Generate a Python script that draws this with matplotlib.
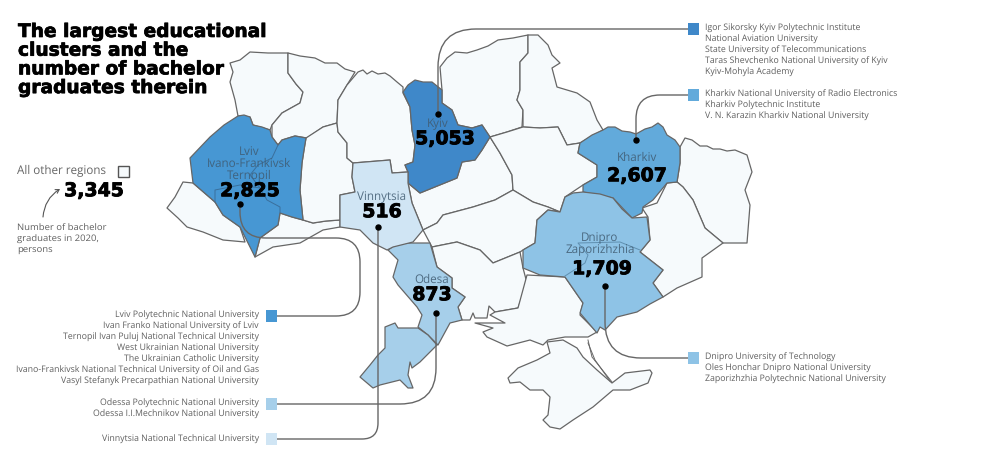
import matplotlib
matplotlib.use('Agg')
import matplotlib.pyplot as plt
import matplotlib.patheffects as pe
from matplotlib.path import Path
from matplotlib.patches import PathPatch, Rectangle

plt.rcParams['font.family'] = ['Open Sans', 'DejaVu Sans']
plt.rcParams['text.hinting'] = 'no_hinting'

# cluster values
clusters = ['Kyiv', 'Lviv\nIvano-Frankivsk\nTernopil', 'Kharkiv', 'Dnipro\nZaporizhzhia', 'Odesa', 'Vinnytsia']
graduates = [5053, 2825, 2607, 1709, 873, 516]
other_regions = 3345

kyiv_unis = ['Igor Sikorsky Kyiv Polytechnic Institute', 'National Aviation University',
             'State University of Telecommunications', 'Taras Shevchenko National University of Kyiv',
             'Kyiv-Mohyla Academy']
kharkiv_unis = ['Kharkiv National University of Radio Electronics', 'Kharkiv Polytechnic Institute',
                'V. N. Karazin Kharkiv National University']
dnipro_unis = ['Dnipro University of Technology', 'Oles Honchar Dnipro National University',
               'Zaporizhzhia Polytechnic National University']
lviv_unis = ['Lviv Polytechnic National University', 'Ivan Franko National University of Lviv',
             'Ternopil Ivan Puluj National Technical University', 'West Ukrainian National University',
             'The Ukrainian Catholic University',
             'Ivano-Frankivsk National Technical University of Oil and Gas',
             'Vasyl Stefanyk Precarpathian National University']
odesa_unis = ['Odessa Polytechnic National University', 'Odessa I.I.Mechnikov National University']
vinnytsia_unis = ['Vinnytsia National Technical University']

title_lines = ['The largest educational', 'clusters and the', 'number of bachelor', 'graduates therein']

# region outlines
lviv = [(238,116),(244,115),(250,117),(253,125),(262,127),(270,130),(272,137),(278,145),(282,140),(295,136),(306,138),
        (304,150),(302,163),(300,190),(303,220),(292,217),(280,213),(278,225),(260,238),(255,257),(245,237),(240,227),
        (223,215),(215,202),(193,183),(190,158),(210,137),(224,125)]
zakarpattia = [(183,182),(193,183),(215,202),(223,215),(240,227),(245,242),(223,240),(203,232),(187,227),(178,218),
               (167,208),(175,197)]
chernivtsi = [(255,257),(260,238),(278,225),(280,213),(292,217),(303,220),(313,223),(326,221),(340,220),(340,227),
              (323,230),(300,243),(273,247)]
volyn = [(230,63),(240,60),(250,52),(268,53),(288,53),(288,73),(296,84),(303,92),(300,103),(282,113),(272,125),
         (270,130),(253,125),(250,117),(238,116),(235,100),(230,82),(233,72)]
rivne = [(288,53),(300,56),(315,58),(325,63),(337,63),(345,69),(355,72),(347,85),(338,100),(337,123),(323,127),(307,138),
         (295,136),(282,140),(278,145),(272,137),(272,125),(282,113),(300,103),(303,92),(296,84),(288,73)]
khmelnytskyi = [(306,138),(323,127),(337,123),(338,132),(347,143),(347,158),(353,163),(352,177),(355,192),(340,195),
                (340,220),(326,221),(313,223),(303,220),(300,190),(302,163),(304,150)]
zhytomyr = [(358,72),(363,70),(367,74),(372,71),(378,74),(385,73),(390,76),(397,82),(403,87),(403,93),(410,107),
            (412,130),(415,145),(413,162),(405,165),(408,172),(392,173),(390,160),(353,163),(347,158),(347,143),
            (338,132),(337,123),(338,100),(347,85)]
kyiv = [(403,92),(408,85),(415,80),(423,82),(432,82),(442,90),(442,103),(452,110),(458,125),(472,128),(482,125),
        (490,137),(482,150),(475,160),(462,162),(457,178),(420,193),(408,183),(408,172),(405,165),(413,162),(415,145),
        (412,130),(410,107)]
vinnytsia = [(353,163),(390,160),(392,173),(408,172),(408,183),(412,203),(423,230),(413,242),(393,247),(387,250),
             (373,243),(360,230),(340,227),(340,195),(355,192),(352,177)]
cherkasy = [(490,137),(500,153),(512,175),(513,190),(495,200),(473,207),(443,215),(437,223),(423,230),(412,203),
            (408,183),(420,193),(457,178),(462,162),(475,160),(482,150)]
chernihiv = [(440,67),(447,58),(455,52),(467,53),(477,50),(488,46),(498,40),(513,38),(528,35),(528,53),(520,62),(520,90),
             (517,100),(523,110),(522,127),(507,132),(490,137),(482,125),(472,128),(458,125),(452,110),(442,103),(442,90)]
sumy = [(528,35),(538,35),(548,45),(552,55),(560,63),(552,68),(557,87),(577,93),(590,102),(597,120),(603,130),(580,143),
        (567,145),(558,127),(540,128),(523,127),(523,110),(517,100),(520,90),(520,62),(528,53)]
poltava = [(490,137),(507,132),(523,127),(540,128),(558,127),(567,145),(580,143),(578,153),(597,165),(597,177),
           (583,185),(565,197),(560,212),(548,207),(533,202),(513,190),(512,175),(500,153)]
kharkiv = [(580,143),(592,135),(603,130),(608,127),(615,127),(622,131),(630,132),(636,134),(645,129),(652,127),(658,123),
           (663,127),(667,135),(675,140),(680,147),(680,163),(677,182),(667,183),(653,200),(643,207),(642,213),(632,218),
           (613,198),(583,192),(583,185),(597,177),(597,165),(578,153)]
luhansk = [(680,147),(685,138),(692,140),(700,146),(707,146),(713,149),(720,149),(727,151),(735,150),(747,155),(752,172),
           (745,190),(750,205),(747,243),(723,243),(705,228),(693,200),(683,187),(677,182),(680,163)]
donetsk = [(677,182),(683,187),(693,200),(705,228),(723,243),(702,258),(702,277),(677,288),(663,297),(653,283),
           (663,270),(640,252),(650,240),(648,217),(642,208),(657,203),(667,183)]
dnipro = [(565,197),(573,193),(583,192),(600,194),(613,198),(622,209),(632,218),(647,217),(650,240),(640,252),(663,270),
          (653,283),(663,297),(650,304),(637,312),(617,317),(605,330),(600,327),(597,333),(580,313),(583,303),(565,277),
          (540,275),(523,268),(523,250),(535,243),(537,220),(548,210),(560,212)]
kirovohrad = [(437,223),(443,215),(473,207),(495,200),(513,190),(533,202),(548,207),(560,212),(548,210),(537,220),
              (535,243),(523,250),(520,252),(493,263),(480,250),(457,242),(432,247),(423,230)]
mykolaiv = [(432,247),(457,242),(480,250),(493,263),(520,252),(523,268),(527,283),(518,308),(495,312),(489,306),
            (487,318),(475,318),(473,313),(470,320),(462,320),(458,307),(465,297),(452,288),(452,278),(437,267)]
odesa_north = [(388,250),(398,243),(430,243),(437,267),(452,278),(452,288),(465,297),(458,307),(462,320),(450,323),
               (438,345),(428,335),(418,327),(422,315),(417,307),(398,285),(393,277),(398,260)]
odesa_south = [(385,327),(395,323),(398,328),(418,328),(428,335),(437,345),(420,362),(412,368),(410,362),(408,375),
               (413,388),(408,388),(400,380),(380,385),(373,388),(360,377),(370,365),(378,355),(385,348)]
kherson = [(527,275),(565,277),(583,303),(580,315),(597,332),(588,337),(565,337),(548,340),(543,345),(530,340),
           (507,346),(487,337),(483,332),(493,328),(475,323),(505,323),(490,315),(495,312),(518,308)]
crimea = [(508,378),(518,368),(537,360),(550,353),(547,342),(563,340),(577,348),(583,357),(597,370),(612,383),
          (625,373),(650,370),(652,373),(648,383),(630,390),(613,390),(593,407),(573,420),(560,429),(550,427),
          (543,420),(548,415),(550,397),(543,390),(530,390),(520,382),(510,383)]

# faint borders inside the merged clusters
lviv_inner = [(215,202),(215,190),(240,185),(260,188),(267,200),(280,207),(280,213)]
ternopil_inner = [(278,145),(272,158),(258,165),(250,175),(260,188)]
dnipro_inner = [(565,276),(585,263),(588,255),(578,243),(620,242),(640,250)]
# spit lines between Kherson and the Crimean coast
arabat_outer = [(588,340),(592,357),(612,382)]
arabat_inner = [(588,343),(595,360),(610,381)]

fill_other = '#f6fafc'
fill_kyiv = '#3f88c9'
fill_lviv = '#4797d3'
fill_kharkiv = '#62aadb'
fill_dnipro = '#8ec3e6'
fill_odesa = '#a6cfea'
fill_vinnytsia = '#d0e5f4'
line_col = '#666666'
text_col = '#5f5f5f'

fig = plt.figure(figsize=(10.04, 4.59), dpi=100)
ax = fig.add_axes([0, 0, 1, 1])
ax.set_xlim(0, 1004)
ax.set_ylim(459, 0)
ax.axis('off')

regions = [(zakarpattia, fill_other), (chernivtsi, fill_other), (volyn, fill_other), (rivne, fill_other),
           (khmelnytskyi, fill_other), (zhytomyr, fill_other), (cherkasy, fill_other), (chernihiv, fill_other),
           (sumy, fill_other), (poltava, fill_other), (luhansk, fill_other), (donetsk, fill_other),
           (kirovohrad, fill_other), (mykolaiv, fill_other), (kherson, fill_other), (crimea, fill_other),
           (lviv, fill_lviv), (kyiv, fill_kyiv), (kharkiv, fill_kharkiv), (dnipro, fill_dnipro),
           (odesa_north, fill_odesa), (odesa_south, fill_odesa), (vinnytsia, fill_vinnytsia)]
for pts, col in regions:
    xs, ys = zip(*pts)
    ax.fill(xs, ys, facecolor=col, edgecolor=line_col, linewidth=0.9, joinstyle='round', zorder=2)

for pts, col in [(lviv_inner, '#3a6f9c'), (ternopil_inner, '#3a6f9c'), (dnipro_inner, '#5f8fb0'),
                 (arabat_outer, line_col), (arabat_inner, line_col)]:
    xs, ys = zip(*pts)
    ax.plot(xs, ys, color=col, lw=0.7, zorder=3)


def connector(points):
    # straight runs with rounded corners, (x, y, radius) at each corner
    verts = [points[0][:2]]
    codes = [Path.MOVETO]
    for i in range(1, len(points) - 1):
        x, y, r = points[i]
        px, py = points[i - 1][:2]
        nx, ny = points[i + 1][:2]
        d1 = max(abs(x - px), abs(y - py))
        d2 = max(abs(nx - x), abs(ny - y))
        verts.append((x + (px - x) * r / d1, y + (py - y) * r / d1))
        codes.append(Path.LINETO)
        verts.append((x, y))
        codes.append(Path.CURVE3)
        verts.append((x + (nx - x) * r / d2, y + (ny - y) * r / d2))
        codes.append(Path.CURVE3)
    verts.append(points[-1][:2])
    codes.append(Path.LINETO)
    ax.add_patch(PathPatch(Path(verts, codes), fill=False, edgecolor=line_col, lw=1.0, zorder=4))
    ax.plot(*points[0][:2], 'o', color='black', ms=3.6, zorder=6)


connector([(438, 114), (438, 29, 38), (688, 29)])
connector([(636, 140), (636, 95, 24), (688, 95)])
connector([(240, 204), (240, 238, 26), (360, 238, 24), (360, 316, 24), (266, 316)])
connector([(436, 313), (436, 404, 36), (266, 404)])
connector([(378, 227), (378, 439, 16), (266, 439)])
connector([(605, 286), (605, 358, 36), (688, 358)])

for x, y, col in [(688, 23, fill_kyiv), (688, 89, fill_kharkiv), (688, 352, fill_dnipro),
                  (266, 310, fill_lviv), (266, 398, fill_odesa), (266, 433, fill_vinnytsia)]:
    ax.add_patch(Rectangle((x, y), 11.5, 11.5, facecolor=col, edgecolor='none', zorder=5))

# university lists
for names, x, y0, ha in [(kyiv_unis, 705, 28, 'left'), (kharkiv_unis, 705, 94, 'left'), (dnipro_unis, 705, 357, 'left'),
                         (lviv_unis, 259, 315, 'right'), (odesa_unis, 259, 403, 'right'),
                         (vinnytsia_unis, 259, 439, 'right')]:
    for i, name in enumerate(names):
        ax.text(x, y0 + i * 11 + 3, name, ha=ha, va='baseline', fontsize=6.3, color=text_col, zorder=7)

title_stroke = [pe.withStroke(linewidth=0.5, foreground='black')]
value_stroke = [pe.withStroke(linewidth=0.6, foreground='black')]
for i, line in enumerate(title_lines):
    ax.text(18, 37 + i * 18.7, line, family='DejaVu Sans', fontweight='bold', fontsize=13.4, color='black',
            va='baseline', ha='left', path_effects=title_stroke, zorder=7)

# cluster labels and values
label_pos = [(438, 124), (249, 164), (637, 158), (600, 244), (432, 280), (382, 197)]
value_pos = [(445, 139), (250, 191), (637, 176), (602, 269), (432, 295), (382, 212)]
for name, val, lp, vp in zip(clusters, graduates, label_pos, value_pos):
    ax.text(lp[0], lp[1], name, ha='center', va='center', fontsize=8.4, color='#3f5a70', alpha=0.85,
            linespacing=1.05, zorder=7)
    ax.text(vp[0], vp[1], f'{val:,}', ha='center', va='center', family='DejaVu Sans', fontweight='bold',
            fontsize=13.6, color='black', path_effects=value_stroke, zorder=7)

# other regions legend
ax.text(17, 171, 'All other regions', ha='left', va='center', fontsize=8.4, color='#666666')
ax.add_patch(Rectangle((118, 166), 11, 11, facecolor=fill_other, edgecolor='#555555', lw=1))
ax.text(94, 191, f'{other_regions:,}', ha='center', va='center', family='DejaVu Sans', fontweight='bold',
        fontsize=13.6, color='black', path_effects=value_stroke)
ax.text(17, 239, 'Number of bachelor\ngraduates in 2020,\npersons', ha='left', va='center', fontsize=6.8,
        color=text_col, linespacing=1.32)
ax.annotate('', xy=(60, 189), xytext=(43, 217),
            arrowprops=dict(arrowstyle='->,head_length=0.25,head_width=0.15', color='#555555', lw=0.8,
                            connectionstyle='arc3,rad=-0.25', shrinkA=0, shrinkB=0))

fig.savefig('out.png', dpi=100)
